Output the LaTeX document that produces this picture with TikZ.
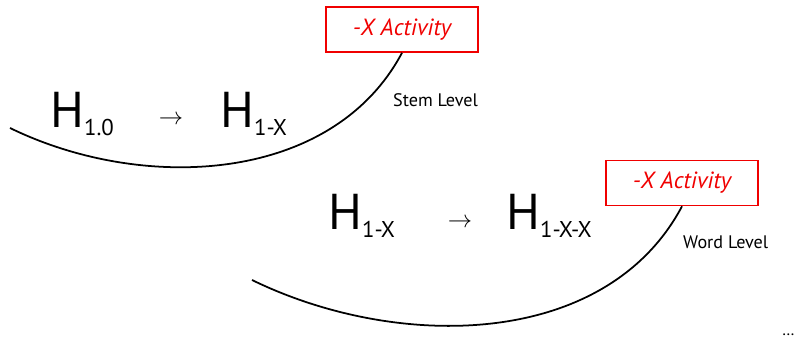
\documentclass[tikz,border=0pt]{standalone}
\usepackage{fontspec}
\setmainfont{PT Sans}
\usepackage{xcolor}
\usepackage{tikz}
\usetikzlibrary{positioning}
\definecolor{actred}{RGB}{240,0,0}
\newcommand{\bigH}[1]{{\fontsize{43}{43}\selectfont H}\raisebox{-6pt}{\fontsize{19.5}{19.5}\selectfont #1}}
\tikzset{
  actbox/.style={rectangle, draw=actred, text=actred, line width=1.4pt,
    minimum width=4.56cm, minimum height=1.35cm,
    font=\fontsize{20}{20}\selectfont\itshape},
  hterm/.style={anchor=base west, inner sep=0pt},
  harrow/.style={inner sep=0pt, font=\fontsize{20}{20}\selectfont},
  lvl/.style={anchor=west, inner sep=0pt, font=\fontsize{15.5}{15.5}\selectfont},
  curve/.style={line width=1.5pt, color=black}
}
\begin{document}
\begin{tikzpicture}
  \useasboundingbox (0,0) rectangle (24.03,10.26);
  % stem level
  \node[actbox] (act1) at (12.06,9.375) {-X Activity};
  \node[hterm] (h10) at (1.5,6.42) {\bigH{1.0}};
  \node[harrow] (arr1) at (5.13,6.66) {$\rightarrow$};
  \node[hterm] (h1x) at (6.6,6.42) {\bigH{1-X}};
  \node[lvl] (stem) at (11.79,7.26) {Stem Level};
  \coordinate (s1) at (0.3,6.42);
  \draw[curve] (s1) to[out=-26, in=-118, looseness=0.95] (act1.south);
  % word level
  \node[actbox] (act2) at (20.46,4.77) {-X Activity};
  \node[hterm] (h1xb) at (9.84,3.36) {\bigH{1-X}};
  \node[harrow] (arr2) at (13.8,3.56) {$\rightarrow$};
  \node[hterm] (h1xx) at (15.18,3.36) {\bigH{1-X-X}};
  \node[lvl] (word) at (20.49,3.0) {Word Level};
  \coordinate (s2) at (7.56,1.86);
  \draw[curve] (s2) to[out=-26, in=-118, looseness=0.95] (act2.south);
  \node[inner sep=1pt, anchor=base, font=\fontsize{14}{14}\selectfont] (more) at (23.65,0.2) {\dots};
\end{tikzpicture}
\end{document}
